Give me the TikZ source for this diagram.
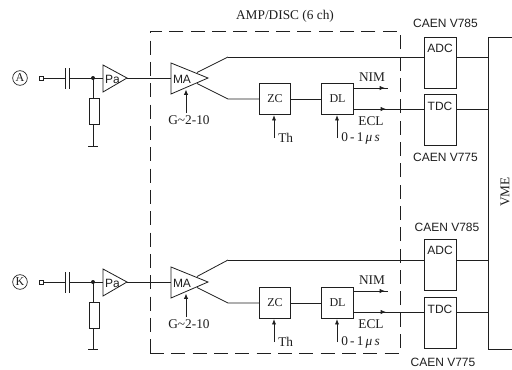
\documentclass[tikz,border=0pt]{standalone}
\usepackage{fontspec}
\setmainfont{Liberation Serif}
\setsansfont{Liberation Sans}
\usetikzlibrary{arrows.meta,calc}
\definecolor{ink}{gray}{0.12}
\tikzset{
  wire/.style={draw=ink,line width=0.6pt},
  sig/.style={wire,-{Latex[length=4pt,width=3.2pt]}},
  box/.style={draw=ink,line width=0.6pt,fill=white,inner sep=0pt,minimum width=23.6pt},
  serif/.style={text=ink,inner sep=0pt,font=\rmfamily\fontsize{10}{11}\selectfont},
  sans/.style={text=ink,inner sep=0pt,font=\sffamily\fontsize{9}{10}\selectfont},
  dot/.style={circle,fill=ink,inner sep=0pt,minimum size=3pt},
}
\newcommand{\channel}[8]{% prefix, letter, y, adc top, tdc top, upper wire, lower wire, ground offset
  \def\P{#1}
  \node[draw=ink,circle,line width=0.5pt,inner sep=0pt,minimum size=11pt,serif] (\P src) at (20,#3) {\fontsize{9}{9}\selectfont #2};
  \node[draw=ink,line width=0.5pt,inner sep=0pt,minimum size=3pt] (\P port) at (41,#3) {};
  \coordinate (\P c1) at (65.5,#3);
  \coordinate (\P c2) at (69.5,#3);
  \coordinate (\P j) at (93,#3);
  \draw[wire] (\P port) -- (\P c1);
  \draw[wire] (\P c2) -- (\P j);
  \draw[wire] ($(\P c1)+(0,-10)$) -- ($(\P c1)+(0,11)$);
  \draw[wire] ($(\P c2)+(0,-10)$) -- ($(\P c2)+(0,11)$);
  \node[dot] at (\P j) {};
  % resistor
  \node[draw=ink,line width=0.6pt,inner sep=0pt,minimum width=7.5pt,minimum height=19pt] (\P r) at (94,#3+33.5) {};
  \coordinate (\P gnd) at (93,#3+#8);
  \draw[wire] (\P j) -- (\P j|-\P r.north);
  \draw[wire] (\P j|-\P r.south) -- (\P gnd);
  \draw[wire] ($(\P gnd)+(-5,0)$) -- ($(\P gnd)+(5,0)$);
  % preamp
  \coordinate (\P pa) at (103,#3);
  \coordinate (\P pat) at (127,#3);
  \draw[wire] (\P j) -- (\P pa);
  \draw[wire] (103,#3-13) -- (\P pat) -- (103,#3+14) -- cycle;
  \node[sans] at (112.5,#3+1) {Pa};
  % main amp
  \coordinate (\P ma) at (171,#3);
  \coordinate (\P mat) at (208,#3);
  \draw[wire] (\P pat) -- (\P ma);
  \draw[wire] (171,#3-15) -- (\P mat) -- (171,#3+16) -- cycle;
  \node[sans] at (182,#3+1) {MA};
  \node[serif] (\P g) at (189,#3+42) {G\textasciitilde 2-10};
  \coordinate (\P gi) at (186,#3+35);
  \draw[sig] (\P gi) -- (186,#3+11.5);
  % blocks
  \node[box,minimum height=23.6pt,serif] (\P zc) at (275,#3+21) {\fontsize{9}{9}\selectfont ZC};
  \node[box,minimum height=23.6pt,serif] (\P dl) at (337.5,#3+21) {\fontsize{9}{9}\selectfont DL};
  \coordinate (\P hi) at (228,#6);
  \coordinate (\P lo) at (228,#3+21);
  \draw[wire] (197,#3-5.5) -- (\P hi);
  \draw[wire] (197,#3+5.5) -- (\P lo) -- (\P zc);
  \draw[wire] (\P zc) -- (\P dl);
  % ADC/TDC
  \node[box,anchor=north,minimum height=38.6pt] (\P adc) at (440.5,#4) {};
  \node[box,anchor=north,minimum height=38.6pt] (\P tdc) at (440.5,#5) {};
  \node[sans] at (440,#4+11) {ADC};
  \node[sans] at (440,#5+12) {TDC};
  \draw[wire] (\P hi) -- (\P adc.west|-\P hi);
  \draw[wire] (\P adc.east|-\P hi) -- (488,#6);
  \draw[wire] (\P tdc.west|-0,#7) -- (\P dl.east|-0,#7);
  \draw[wire] (\P tdc.east|-0,#7) -- (488,#7);
  \coordinate (\P nimend) at (388,#7-21);
  \coordinate (\P ecl) at (386,#7);
  \draw[wire] (\P dl.east|-\P nimend) -- (\P nimend);
  \draw[sig] (\P dl.east|-\P nimend) -- ($(\P nimend)+(-3,0)$);
  \draw[sig] (\P dl.east|-\P ecl) -- (\P ecl);
  \node[serif] at (372,#7-32) {NIM};
  \node[serif] at (371,#7+12) {ECL};
  \coordinate (\P thi) at (274,#3+60);
  \coordinate (\P di) at (337,#3+60);
  \draw[sig] (\P thi) -- (\P zc.south-|\P thi);
  \draw[sig] (\P di) -- (\P dl.south-|\P di);
  \node[serif,anchor=west] at (278,#3+60) {Th};
  \node[serif,anchor=west] at (341,#3+60) {0\,-\,1\,{\itshape μ\,s}};
}
\begin{document}
\begin{tikzpicture}[x=0.75pt,y=-0.75pt]
\useasboundingbox (0,0) rectangle (512,369);
\fill[white] (0,0) rectangle (512,369);
\node[minimum width=187.5pt,minimum height=242pt,inner sep=0pt,draw=ink,line width=0.6pt,dash pattern=on 10.5pt off 5.5pt] (amp) at (275,192.5) {};
\channel{a}{A}{78}{37}{94}{57}{109}{68}
\channel{b}{K}{282}{239}{297}{260}{312}{67}
\node[serif] at (285,16) {AMP/DISC (6 ch)};
\node[sans] at (445.5,23) {CAEN V785};
\node[sans] at (445.5,157) {CAEN V775};
\node[sans] at (447,227) {CAEN V785};
\node[sans] at (443,362) {CAEN V775};
\draw[wire] (512,37) -- (488,37) -- (488,349) -- (512,349);
\node[serif,rotate=90] at (505,192) {VME};
\end{tikzpicture}
\end{document}
